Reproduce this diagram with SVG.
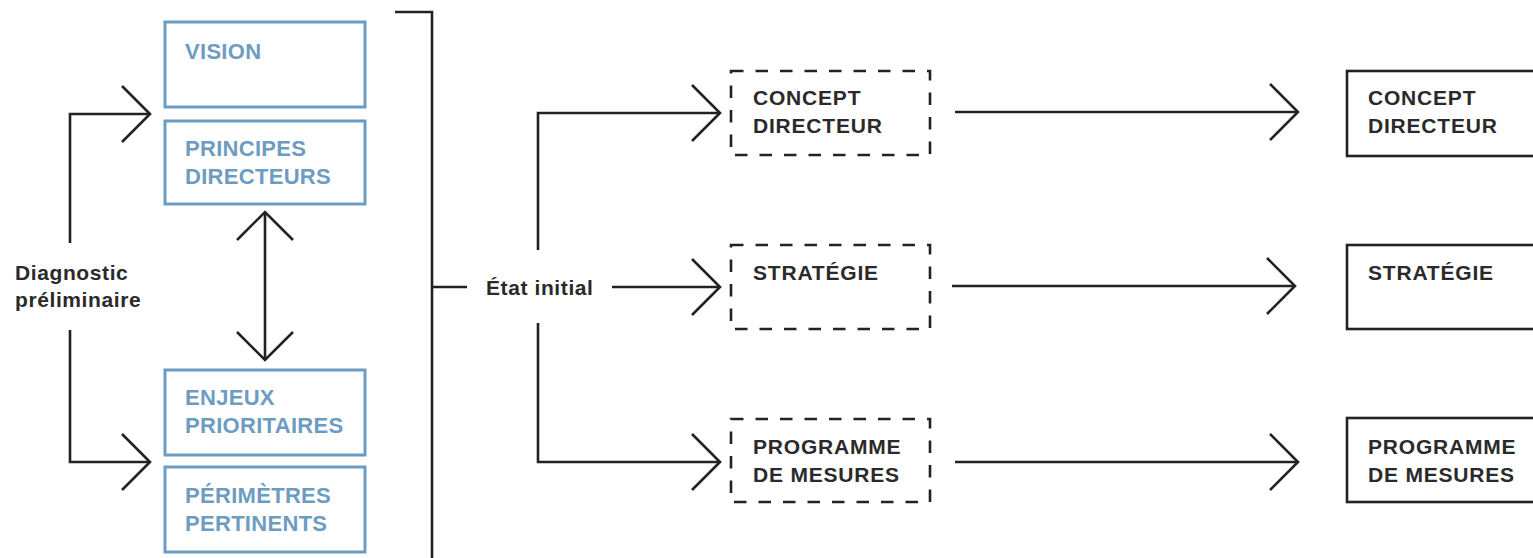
<svg xmlns="http://www.w3.org/2000/svg" width="1533" height="558" viewBox="0 0 1533 558">
<style>
.bg{fill:#fff}
.bbox{fill:none;stroke:#6d9cc3;stroke-width:3}
.btxt{font-family:"Liberation Sans",Arial,sans-serif;font-weight:bold;font-size:22px;letter-spacing:0.3px;fill:#6d9cc3}
.dbox{fill:none;stroke:#222;stroke-width:2.6;stroke-dasharray:12.5 12}
.kbox{fill:none;stroke:#222;stroke-width:2.6}
.ktxt{font-family:"Liberation Sans",Arial,sans-serif;font-weight:bold;font-size:21px;letter-spacing:0.8px;fill:#2a2a2a}
.ltxt{font-family:"Liberation Sans",Arial,sans-serif;font-weight:bold;font-size:21px;letter-spacing:0.6px;fill:#2a2a2a}
.ln{fill:none;stroke:#222;stroke-width:2.6;stroke-linejoin:miter}
</style>
<rect class="bg" width="1533" height="558"/>
<g id="connectors">
  <path class="ln" d="M70,243 V114 H150"/>
  <path class="ln" d="M122,86 L150,114 L122,142"/>
  <path class="ln" d="M70,330 V462 H150"/>
  <path class="ln" d="M122,434 L150,462 L122,490"/>
  <path class="ln" d="M265,213 V359"/>
  <path class="ln" d="M237,240 L265,212 L293,240"/>
  <path class="ln" d="M237,332 L265,360 L293,332"/>
  <path class="ln" d="M395,12 H432 V558"/>
  <path class="ln" d="M432,287 H467"/>
  <path class="ln" d="M612,287 H720"/>
  <path class="ln" d="M692,259 L720,287 L692,315"/>
  <path class="ln" d="M538,250 V113 H720"/>
  <path class="ln" d="M692,85 L720,113 L692,141"/>
  <path class="ln" d="M538,323 V462 H720"/>
  <path class="ln" d="M692,434 L720,462 L692,490"/>
  <path class="ln" d="M955,112 H1298"/>
  <path class="ln" d="M1270,84 L1298,112 L1270,140"/>
  <path class="ln" d="M952,286 H1295"/>
  <path class="ln" d="M1267,258 L1295,286 L1267,314"/>
  <path class="ln" d="M955,462 H1298"/>
  <path class="ln" d="M1270,434 L1298,462 L1270,490"/>
</g>
<g id="diagnostic">
  <text class="ltxt" x="15" y="280">Diagnostic</text>
  <text class="ltxt" x="15" y="307">préliminaire</text>
</g>
<g id="vision">
  <rect class="bbox" x="165" y="22" width="200" height="85"/>
  <text class="btxt" x="185" y="59">VISION</text>
</g>
<g id="principes">
  <rect class="bbox" x="165" y="121" width="200" height="83"/>
  <text class="btxt" x="185" y="156">PRINCIPES</text>
  <text class="btxt" x="185" y="184">DIRECTEURS</text>
</g>
<g id="enjeux">
  <rect class="bbox" x="165" y="370" width="200" height="85"/>
  <text class="btxt" x="185" y="405">ENJEUX</text>
  <text class="btxt" x="185" y="433">PRIORITAIRES</text>
</g>
<g id="perimetres">
  <rect class="bbox" x="165" y="467" width="200" height="85"/>
  <text class="btxt" x="185" y="503">PÉRIMÈTRES</text>
  <text class="btxt" x="185" y="531">PERTINENTS</text>
</g>
<g id="etat-initial">
  <text class="ltxt" x="486" y="295">État initial</text>
</g>
<g id="concept-draft">
  <rect class="dbox" x="731" y="71" width="199" height="84"/>
  <text class="ktxt" x="753" y="105">CONCEPT</text>
  <text class="ktxt" x="753" y="133">DIRECTEUR</text>
</g>
<g id="strategie-draft">
  <rect class="dbox" x="731" y="245" width="199" height="84"/>
  <text class="ktxt" x="753" y="280">STRATÉGIE</text>
</g>
<g id="programme-draft">
  <rect class="dbox" x="731" y="419" width="199" height="83"/>
  <text class="ktxt" x="753" y="454">PROGRAMME</text>
  <text class="ktxt" x="753" y="482">DE MESURES</text>
</g>
<g id="concept-final">
  <rect class="kbox" x="1347" y="71" width="200" height="85"/>
  <text class="ktxt" x="1368" y="105">CONCEPT</text>
  <text class="ktxt" x="1368" y="133">DIRECTEUR</text>
</g>
<g id="strategie-final">
  <rect class="kbox" x="1347" y="245" width="200" height="84"/>
  <text class="ktxt" x="1368" y="280">STRATÉGIE</text>
</g>
<g id="programme-final">
  <rect class="kbox" x="1347" y="418" width="200" height="84"/>
  <text class="ktxt" x="1368" y="454">PROGRAMME</text>
  <text class="ktxt" x="1368" y="482">DE MESURES</text>
</g>
</svg>
